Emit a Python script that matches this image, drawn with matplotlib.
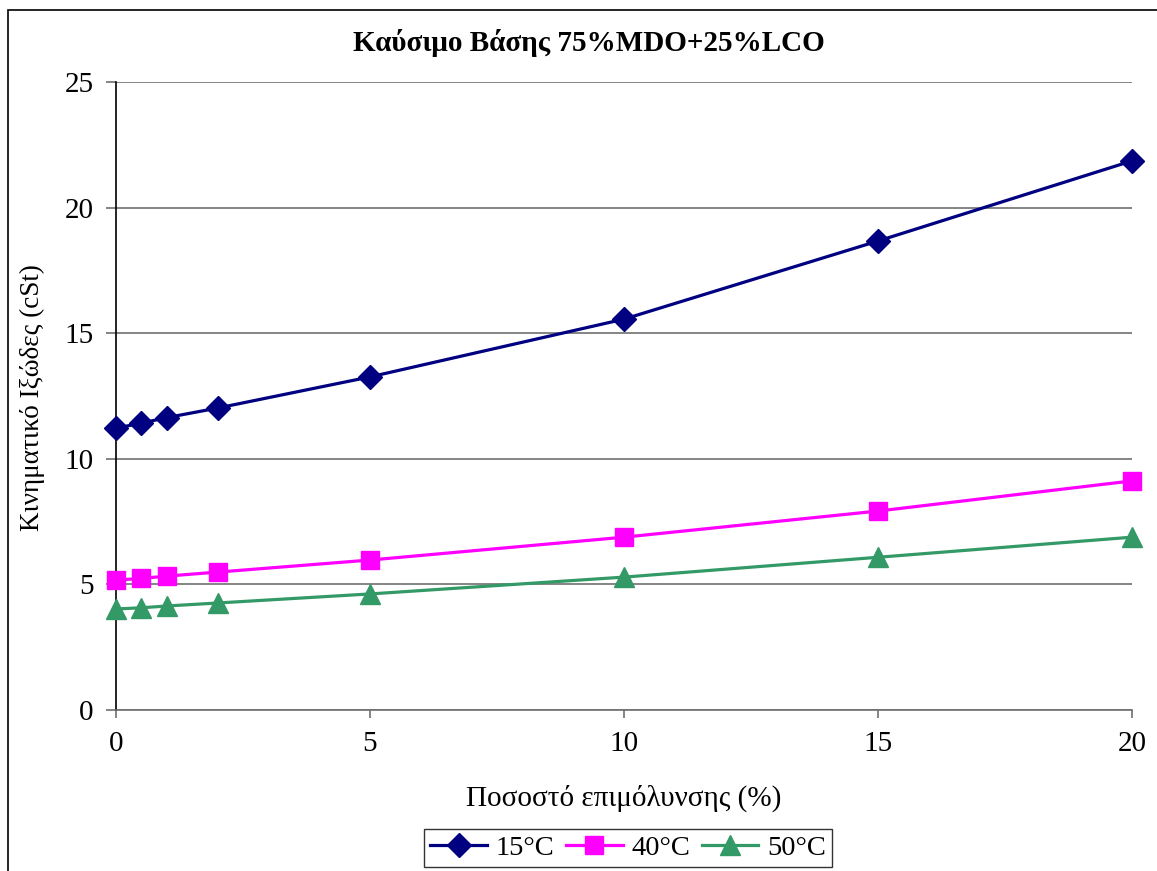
import matplotlib
matplotlib.use("Agg")
import matplotlib.pyplot as plt
from matplotlib.patches import Rectangle

x_pct = [0, 0.5, 1, 2, 5, 10, 15, 20]
visc_15 = [11.22, 11.42, 11.64, 12.02, 13.26, 15.56, 18.67, 21.86]
visc_40 = [5.17, 5.24, 5.33, 5.49, 5.97, 6.88, 7.92, 9.12]
visc_50 = [4.02, 4.07, 4.14, 4.26, 4.62, 5.29, 6.08, 6.88]
series_labels = ["15°C", "40°C", "50°C"]
title = "Καύσιμο Βάσης 75%MDO+25%LCO"
xlabel = "Ποσοστό επιμόλυνσης (%)"
ylabel = "Κινηματικό Ιξώδες (cSt)"

plt.rcParams['font.family'] = ['Liberation Serif', 'DejaVu Serif']

fig = plt.figure(figsize=(11.57, 8.71), dpi=100)
fig.patches.append(Rectangle((8/1157, -0.1), 1.2, 1 - 10/871 + 0.1, transform=fig.transFigure,
                             fill=False, edgecolor='black', linewidth=1.2))
ax = fig.add_axes([116/1157, 1 - 710/871, (1132 - 116)/1157, (710 - 82)/871])

ax.plot(x_pct, visc_15, color='#000080', marker='D', markersize=12, linewidth=2.3, label=series_labels[0], clip_on=False, zorder=3)
ax.plot(x_pct, visc_40, color='#FF00FF', marker='s', markersize=12.5, linewidth=2.3, label=series_labels[1], clip_on=False, zorder=3)
ax.plot(x_pct, visc_50, color='#339966', marker='^', markersize=14, linewidth=2.3, label=series_labels[2], clip_on=False, zorder=3)

ax.set_xlim(0, 20)
ax.set_ylim(0, 25)
ax.set_xticks([0, 5, 10, 15, 20])
ax.set_yticks([0, 5, 10, 15, 20, 25])
ax.yaxis.grid(True, color='#707070', linewidth=1.2)
ax.set_axisbelow(True)
for s in ['top', 'right']:
    ax.spines[s].set_visible(False)
ax.spines['left'].set_color('black')
ax.spines['left'].set_linewidth(1.2)
ax.spines['bottom'].set_color('#707070')
ax.spines['bottom'].set_linewidth(1.2)
ax.tick_params(axis='y', direction='out', length=7, width=1.2, color='#707070', labelsize=21, pad=9)
ax.tick_params(axis='x', direction='out', length=6, width=1.2, color='#707070', labelsize=21, pad=9)

ax.set_xlabel(xlabel, fontsize=21)
ax.xaxis.set_label_coords(0.5, -(798 - 710) / 628)
ax.xaxis.label.set_va('center')
ax.set_ylabel(ylabel, fontsize=19.5)
ax.yaxis.set_label_coords((32 - 116) / 1016, (710 - 398) / 628)
ax.yaxis.label.set_va('center')
fig.text(589/1157, 1 - 43/871, title, fontsize=21, fontweight='bold', ha='center', va='center')

leg = fig.legend(loc='center', bbox_to_anchor=(628/1157, 1 - 848/871), ncol=3, fontsize=20.5,
                 frameon=True, fancybox=False, edgecolor='black', handlelength=2.0,
                 columnspacing=0.4, handletextpad=0.3, borderpad=0.2, borderaxespad=0)
leg.get_frame().set_linewidth(1.0)

fig.savefig("out.png", dpi=100)
